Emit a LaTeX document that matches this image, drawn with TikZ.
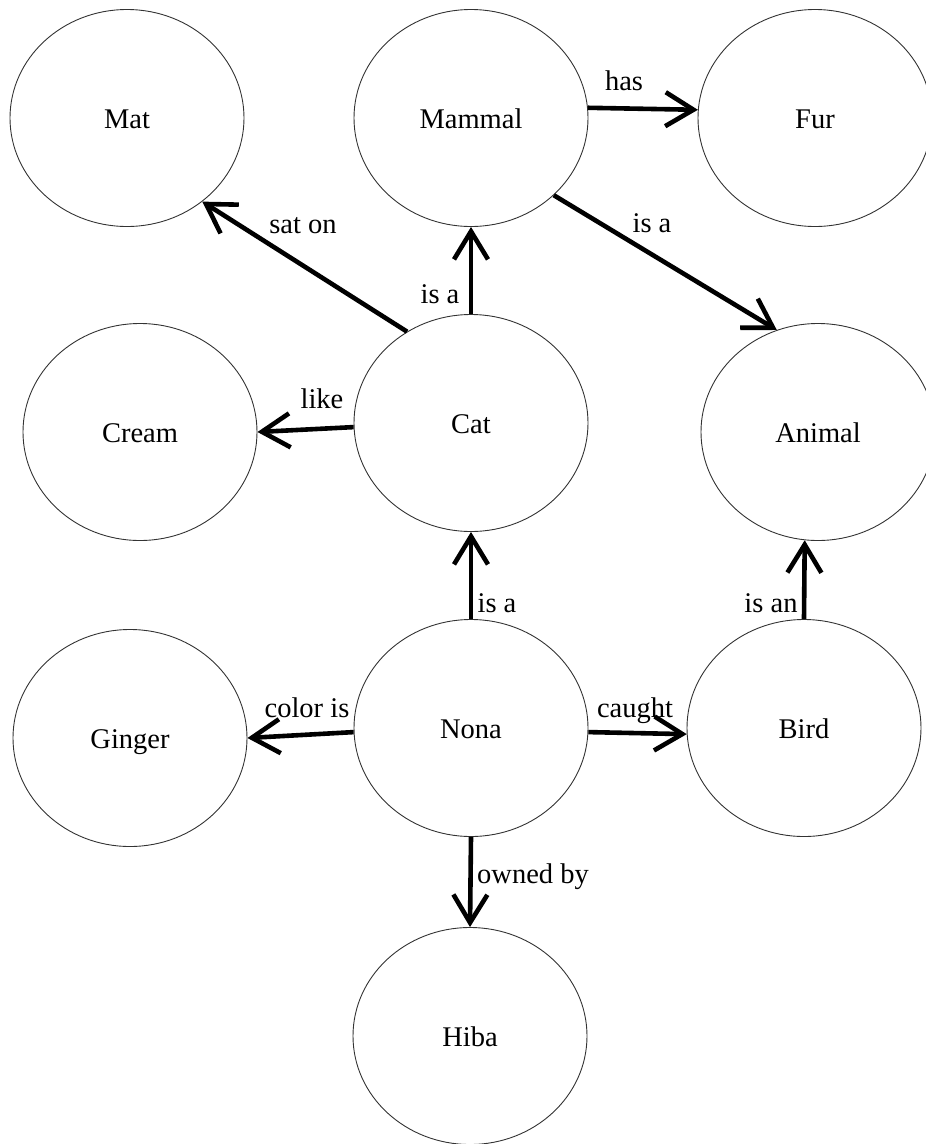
\documentclass[tikz,border=0pt]{standalone}
\usepackage{fontspec}
\setmainfont{Liberation Serif}
\usetikzlibrary{shapes.geometric,arrows.meta}

\tikzset{
  concept/.style={ellipse, draw=black!80, line width=0.9pt,
    minimum width=234pt, minimum height=217pt, inner sep=0pt,
    text height=20pt, text depth=0pt,
    font=\fontsize{28.5pt}{34pt}\selectfont},
  rel/.style={line width=4.6pt, -{Straight Barb[length=28pt,width=34pt]}},
  tag/.style={anchor=base, inner sep=0pt,
    font=\fontsize{28.5pt}{34pt}\selectfont}
}

\begin{document}
\begin{tikzpicture}[x=1pt,y=-1pt]
  \useasboundingbox (0,0) rectangle (926,1144);

  % concepts
  \node[concept] (mat)    at (127,118)  {Mat};
  \node[concept] (mammal) at (471,118)  {Mammal};
  \node[concept] (fur)    at (815,118)  {Fur};
  \node[concept] (cream)  at (140,432)  {Cream};
  \node[concept] (cat)    at (471,423)  {Cat};
  \node[concept] (animal) at (818,432)  {Animal};
  \node[concept] (ginger) at (130,738)  {Ginger};
  \node[concept] (nona)   at (471,728)  {Nona};
  \node[concept] (bird)   at (804,728)  {Bird};
  \node[concept] (hiba)   at (470,1036) {Hiba};

  % relations
  \draw[rel] (cat.125.6)    -- (mat.-48);
  \draw[rel] (cat.north)    -- (mammal.south);
  \draw[rel] (mammal.5)     -- (fur.176);
  \draw[rel] (mammal.-43.6) -- (animal.112);
  \draw[rel] (cat.182)      -- (cream.0);
  \draw[rel] (nona.north)   -- (cat.south);
  \draw[rel] (bird.north)   -- (animal.263);
  \draw[rel] (nona.182.5)   -- (ginger.0);
  \draw[rel] (nona.-2.5)    -- (bird.183);
  \draw[rel] (nona.south)   -- (hiba.north);

  % relation labels
  \node[tag] (l-saton)   at (303,233) {sat on};
  \node[tag] (l-isa1)    at (440,303) {is a};
  \node[tag] (l-has)     at (624,90)  {has};
  \node[tag] (l-isa2)    at (652,232) {is a};
  \node[tag] (l-like)    at (322,408) {like};
  \node[tag] (l-isa3)    at (497,612) {is a};
  \node[tag] (l-isan)    at (771,612) {is an};
  \node[tag] (l-coloris) at (307,717) {color is};
  \node[tag] (l-caught)  at (635,717) {caught};
  \node[tag] (l-owned)   at (533,883) {owned by};
\end{tikzpicture}
\end{document}
